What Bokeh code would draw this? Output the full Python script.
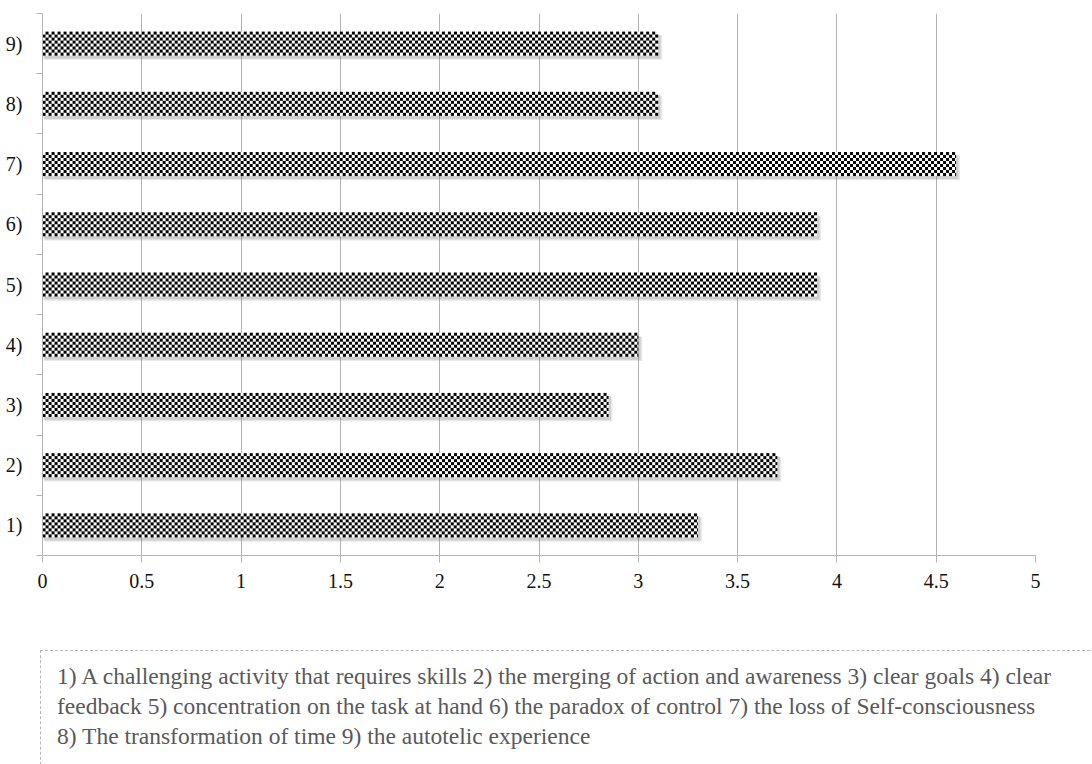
import numpy as np
from bokeh.plotting import figure
from bokeh.models import ColumnDataSource, FixedTicker, Div
from bokeh.layouts import column
from bokeh.transform import dodge
from bokeh.embed import file_html
from bokeh.resources import INLINE

labels = ["1)", "2)", "3)", "4)", "5)", "6)", "7)", "8)", "9)"]
positions = [1, 2, 3, 4, 5, 6, 7, 8, 9]
values = [3.3, 3.7, 2.85, 3.0, 3.9, 3.9, 4.6, 3.1, 3.1]
x_ticks = [0, 0.5, 1, 1.5, 2, 2.5, 3, 3.5, 4, 4.5, 5]
x_tick_labels = ["0", "0.5", "1", "1.5", "2", "2.5", "3", "3.5", "4", "4.5", "5"]
note_lines = [
    "1) A challenging activity that requires skills 2) the merging of action and awareness 3) clear goals 4) clear",
    "feedback 5) concentration on the task at hand 6) the paradox of control 7) the loss of Self-consciousness",
    "8) The transformation of time 9) the autotelic experience",
]

W, H = 1092, 620
BL, BR, BT, BB = 42, 57, 13, 65
XMAX = 5.0
px_per_x = (W - BL - BR) / XMAX
BAR_PX = 24
CELL = 3
SERIF = "Liberation Serif"


def checker(width_px, height_px):
    jj, ii = np.meshgrid(np.arange(width_px), np.arange(height_px))
    black = ((ii // CELL + jj // CELL) % 2) == 0
    rgba = np.empty((height_px, width_px, 4), dtype=np.uint8)
    rgba[..., 0:3] = np.where(black, 0, 255)[..., None]
    rgba[..., 3] = 255
    return rgba.view(dtype=np.uint32).reshape(height_px, width_px)


images = [checker(int(round(v * px_per_x)), BAR_PX) for v in values]

src = ColumnDataSource(dict(y=positions, value=values, label=labels))
img_src = ColumnDataSource(dict(image=images, x=[0] * len(values), y=positions,
                                dw=values, dh=[BAR_PX] * len(values)))

p = figure(width=W, height=H, x_range=(0, XMAX), y_range=(0.5, 9.5),
           output_backend="svg", toolbar_location=None,
           min_border_left=BL, min_border_right=BR, min_border_top=BT, min_border_bottom=BB)
p.outline_line_color = None
p.background_fill_color = "white"

p.xgrid.ticker = FixedTicker(ticks=x_ticks[1:])
p.xgrid.grid_line_color = "#b3b3b3"
p.ygrid.grid_line_color = None

# soft shadow under bars
p.hbar(y=dodge("y", -0.07), left=0.01, right=dodge("value", 0.02), height=0.40, source=src,
       fill_color="#808080", fill_alpha=0.18, line_color=None)
p.hbar(y=dodge("y", -0.05), left=0.005, right=dodge("value", 0.012), height=0.40, source=src,
       fill_color="#808080", fill_alpha=0.25, line_color=None)

# checker-patterned bars
p.image_rgba(image="image", x="x", y="y", dw="dw", dh="dh", dh_units="screen",
             anchor="center_left", source=img_src)

# x axis
p.xaxis.ticker = FixedTicker(ticks=x_ticks)
p.xaxis.major_label_overrides = {t: l for t, l in zip(x_ticks, x_tick_labels)}
p.xaxis.axis_line_color = "#b3b3b3"
p.xaxis.major_tick_line_color = "#b3b3b3"
p.xaxis.major_tick_out = 7
p.xaxis.major_tick_in = 0
p.xaxis.minor_tick_line_color = None
p.xaxis.major_label_text_font = SERIF
p.xaxis.major_label_text_font_size = "20px"
p.xaxis.major_label_text_color = "#111111"
p.xaxis.major_label_standoff = 11

# y axis
p.yaxis.ticker = FixedTicker(ticks=positions, minor_ticks=[0.5 + i for i in range(10)])
p.yaxis.major_label_overrides = {pos: l for pos, l in zip(positions, labels)}
p.yaxis.axis_line_color = "#b3b3b3"
p.yaxis.major_tick_line_color = None
p.yaxis.minor_tick_line_color = "#b3b3b3"
p.yaxis.minor_tick_out = 6
p.yaxis.minor_tick_in = 0
p.yaxis.major_label_text_font = SERIF
p.yaxis.major_label_text_font_size = "20px"
p.yaxis.major_label_text_color = "#111111"
p.yaxis.major_label_standoff = 14

inner = ('<div style="font-family: \'Liberation Serif\', \'Times New Roman\', serif; font-size: 23.5px; '
         'color: #595959; line-height: 30px; white-space: nowrap; width: 1060px; '
         'border-top: 1px dashed #b8b8b8; border-left: 1px dashed #b8b8b8; '
         'padding: 10px 0 0 16px; height: 120px; box-sizing: border-box;">'
         + "<br>".join(note_lines) + "</div>")
div = Div(text=inner, width=1052, height=114, margin=(30, 0, 0, 40))

layout = column(p, div, spacing=0)
open("out.html", "w").write(file_html(layout, INLINE))
